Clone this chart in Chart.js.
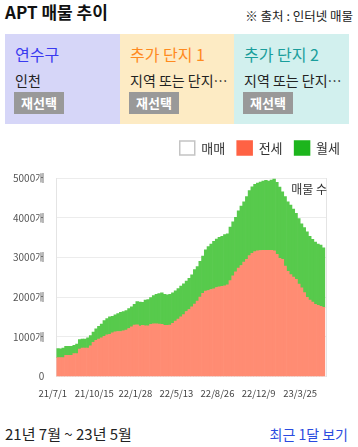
<!DOCTYPE html>
<html><head><meta charset="utf-8">
<script src="https://cdn.jsdelivr.net/npm/chart.js@4.4.0/dist/chart.umd.min.js"></script>
<style>
html,body{margin:0;padding:0;background:#fff;}
body{width:358px;height:447px;position:relative;overflow:hidden;font-family:'Noto Sans CJK KR','Noto Sans',sans-serif;color:#222;}
.abs{position:absolute;white-space:nowrap;}
.panel{position:absolute;top:34px;height:90px;}
.ptitle{position:absolute;left:10px;top:11px;font-size:16px;line-height:18px;}
.psub{position:absolute;left:10px;top:38px;font-size:14px;line-height:16px;color:#222;width:98px;overflow:hidden;text-overflow:ellipsis;white-space:nowrap;}
.pbtn{position:absolute;left:9px;top:58px;width:50px;height:22px;background:#999;color:#fff;font-size:13px;font-weight:bold;line-height:22px;text-align:center;}
#wrap{position:absolute;left:0;top:129px;width:358px;height:273px;}
</style></head>
<body>
<div class="abs" style="left:5px;top:2px;font-size:17px;line-height:20px;font-weight:bold;color:#111;">APT 매물 추이</div>
<div class="abs" style="right:5px;top:9px;font-size:12.5px;line-height:14px;color:#222;">※ 출처 : 인터넷 매물</div>

<div class="panel" style="left:5px;width:115px;background:#d6d6f8;">
  <div class="ptitle" style="color:#3a3af0;">연수구</div>
  <div class="psub">인천</div>
  <div class="pbtn">재선택</div>
</div>
<div class="panel" style="left:120px;width:114px;background:#fdebc4;">
  <div class="ptitle" style="color:#ff8a1e;">추가 단지 1</div>
  <div class="psub">지역 또는 단지명 검색</div>
  <div class="pbtn">재선택</div>
</div>
<div class="panel" style="left:234px;width:115px;background:#d2f0ee;">
  <div class="ptitle" style="color:#1a9e9c;">추가 단지 2</div>
  <div class="psub">지역 또는 단지명 검색</div>
  <div class="pbtn">재선택</div>
</div>

<div id="wrap"><canvas id="c"></canvas></div>

<div class="abs" style="left:5px;top:426px;font-size:15px;line-height:16px;color:#222;">21년 7월 ~ 23년 5월</div>
<div class="abs" style="right:10px;top:426px;font-size:14px;line-height:16px;color:#2a4be0;">최근 1달 보기</div>

<script>
// ---- data ----
const startDate = '2021-07-01';
const stepDays = 7;
const seriesNames = ['매매', '전세', '월세'];
const jeonse = [478,478,478,538,538,538,580,580,691,717,717,717,776,862,913,947,973,1015,1049,1067,
  1101,1126,1135,1135,1152,1169,1212,1254,1297,1305,1271,1288,1280,1280,1314,1331,1331,1322,1314,1288,
  1288,1297,1340,1399,1450,1502,1561,1638,1689,1758,1826,1903,2005,2099,2150,2167,2193,2210,2244,2261,
  2270,2287,2312,2415,2534,2636,2730,2798,2884,2952,3046,3106,3148,3165,3174,3182,3182,3182,3182,3165,
  3080,2978,2952,2781,2653,2568,2508,2449,2329,2235,2116,1997,1928,1877,1817,1792,1766,1741];
const wolse = [230,222,239,221,221,221,205,239,239,230,230,256,256,256,290,316,349,393,410,435,
  418,427,452,486,486,495,503,504,520,581,606,581,648,657,674,708,742,768,793,785,
  768,776,767,760,768,776,777,768,785,802,870,870,896,938,1041,1109,1143,1194,1220,1246,
  1262,1288,1280,1348,1365,1374,1442,1494,1519,1578,1638,1672,1690,1707,1723,1741,1758,1741,1767,1809,
  1809,1791,1698,1749,1750,1749,1707,1663,1647,1613,1638,1646,1604,1579,1570,1544,1544,1501];
const tickDates = ['2021-07-01','2021-10-15','2022-01-28','2022-05-13','2022-08-26','2022-12-09','2023-03-25'];
const tickLabels = ['21/7/1','21/10/15','22/1/28','22/5/13','22/8/26','22/12/9','23/3/25'];
const yTicks = [0,1000,2000,3000,4000,5000];

// ---- build ----
const DAY = 86400000;
const t0 = Date.parse(startDate);
const dayOf = s => Math.round((Date.parse(s) - t0) / DAY);
const dates = jeonse.map((_, i) => new Date(t0 + i * stepDays * DAY).toISOString().slice(0,10));
const xs = dates.map(dayOf);
const tickDays = tickDates.map(dayOf);
const lastDay = xs[xs.length - 1];

Chart.defaults.font.family = "'Noto Sans CJK KR','Noto Sans',sans-serif";

const legendColors = [
  {fill:'#ffffff', stroke:'#c4c4c4'},
  {fill:'#ff6244', stroke:'#ff6244'},
  {fill:'#1db51d', stroke:'#1db51d'}
];

const cornerLabel = {
  id:'cornerLabel',
  afterDatasetsDraw(chart){
    const {ctx, chartArea} = chart;
    ctx.save();
    ctx.font = "12px 'Noto Sans CJK KR'";
    ctx.fillStyle = '#333';
    ctx.textAlign = 'right';
    ctx.textBaseline = 'top';
    ctx.fillText('매물 수', chartArea.right + 1, chartArea.top + 5);
    ctx.restore();
  }
};

const legendGap = {
  id:'legendGap',
  afterInit(chart){
    const lg = chart.legend;
    if (!lg) return;
    const fit = lg.fit;
    lg.fit = function(){ fit.call(this); this.height += 13; };
  }
};

new Chart(document.getElementById('c'), {
  type: 'bar',
  data: {
    datasets: [
      {label: seriesNames[0], data: [], backgroundColor:'#ffffff'},
      {label: seriesNames[1], data: xs.map((x,i)=>({x, y: jeonse[i]})), backgroundColor:'#ff8c73',
       barPercentage:1, categoryPercentage:1, borderWidth:0},
      {label: seriesNames[2], data: xs.map((x,i)=>({x, y: wolse[i]})), backgroundColor:'#57ca4c',
       barPercentage:1, categoryPercentage:1, borderWidth:0}
    ]
  },
  options: {
    responsive: true,
    maintainAspectRatio: false,
    animation: false,
    layout: {padding: {left: 1, right: 6, top: 0, bottom: 0}},
    plugins: {
      tooltip: {enabled:false},
      legend: {
        position:'top', align:'end',
        labels: {
          boxWidth:15, boxHeight:14, color:'#333', font:{size:13}, padding:12,
          generateLabels: (chart) => chart.data.datasets.map((d,i)=>({
            text: d.label, fillStyle: legendColors[i].fill, strokeStyle: legendColors[i].stroke,
            lineWidth: 1.5, datasetIndex: i, hidden: false, fontColor:'#333'
          }))
        }
      }
    },
    scales: {
      x: {
        type:'linear', stacked:true, offset:false,
        min: -stepDays/2, max: lastDay + stepDays/2 + 3,
        grid:{display:false}, border:{display:false},
        afterBuildTicks: (s) => { s.ticks = tickDays.map(v => ({value: v})); },
        ticks: {
          autoSkip:false, maxRotation:0, minRotation:0, labelOffset:-5, padding:3,
          font:{size:9.5}, color:'#444',
          callback: (v) => { const k = tickDays.indexOf(v); return k >= 0 ? tickLabels[k] : ''; }
        }
      },
      y: {
        stacked:true, min:0, max:5000,
        afterBuildTicks: (s) => { s.ticks = yTicks.map(v => ({value: v})); },
        grid:{color:'#ececec', drawTicks:false},
        border:{display:true, color:'#e4e4e4'},
        ticks:{padding:12, font:{size:10}, color:'#555',
          callback: (v) => v === 0 ? '0' : v + '개'}
      },
      yR: {
        position:'right', min:0, max:5000,
        grid:{display:false, drawTicks:false},
        border:{display:true, color:'#e4e4e4'},
        ticks:{display:false},
        afterFit: (s) => { s.width = 26; }
      }
    }
  },
  plugins: [cornerLabel, legendGap]
});
</script>
</body></html>
